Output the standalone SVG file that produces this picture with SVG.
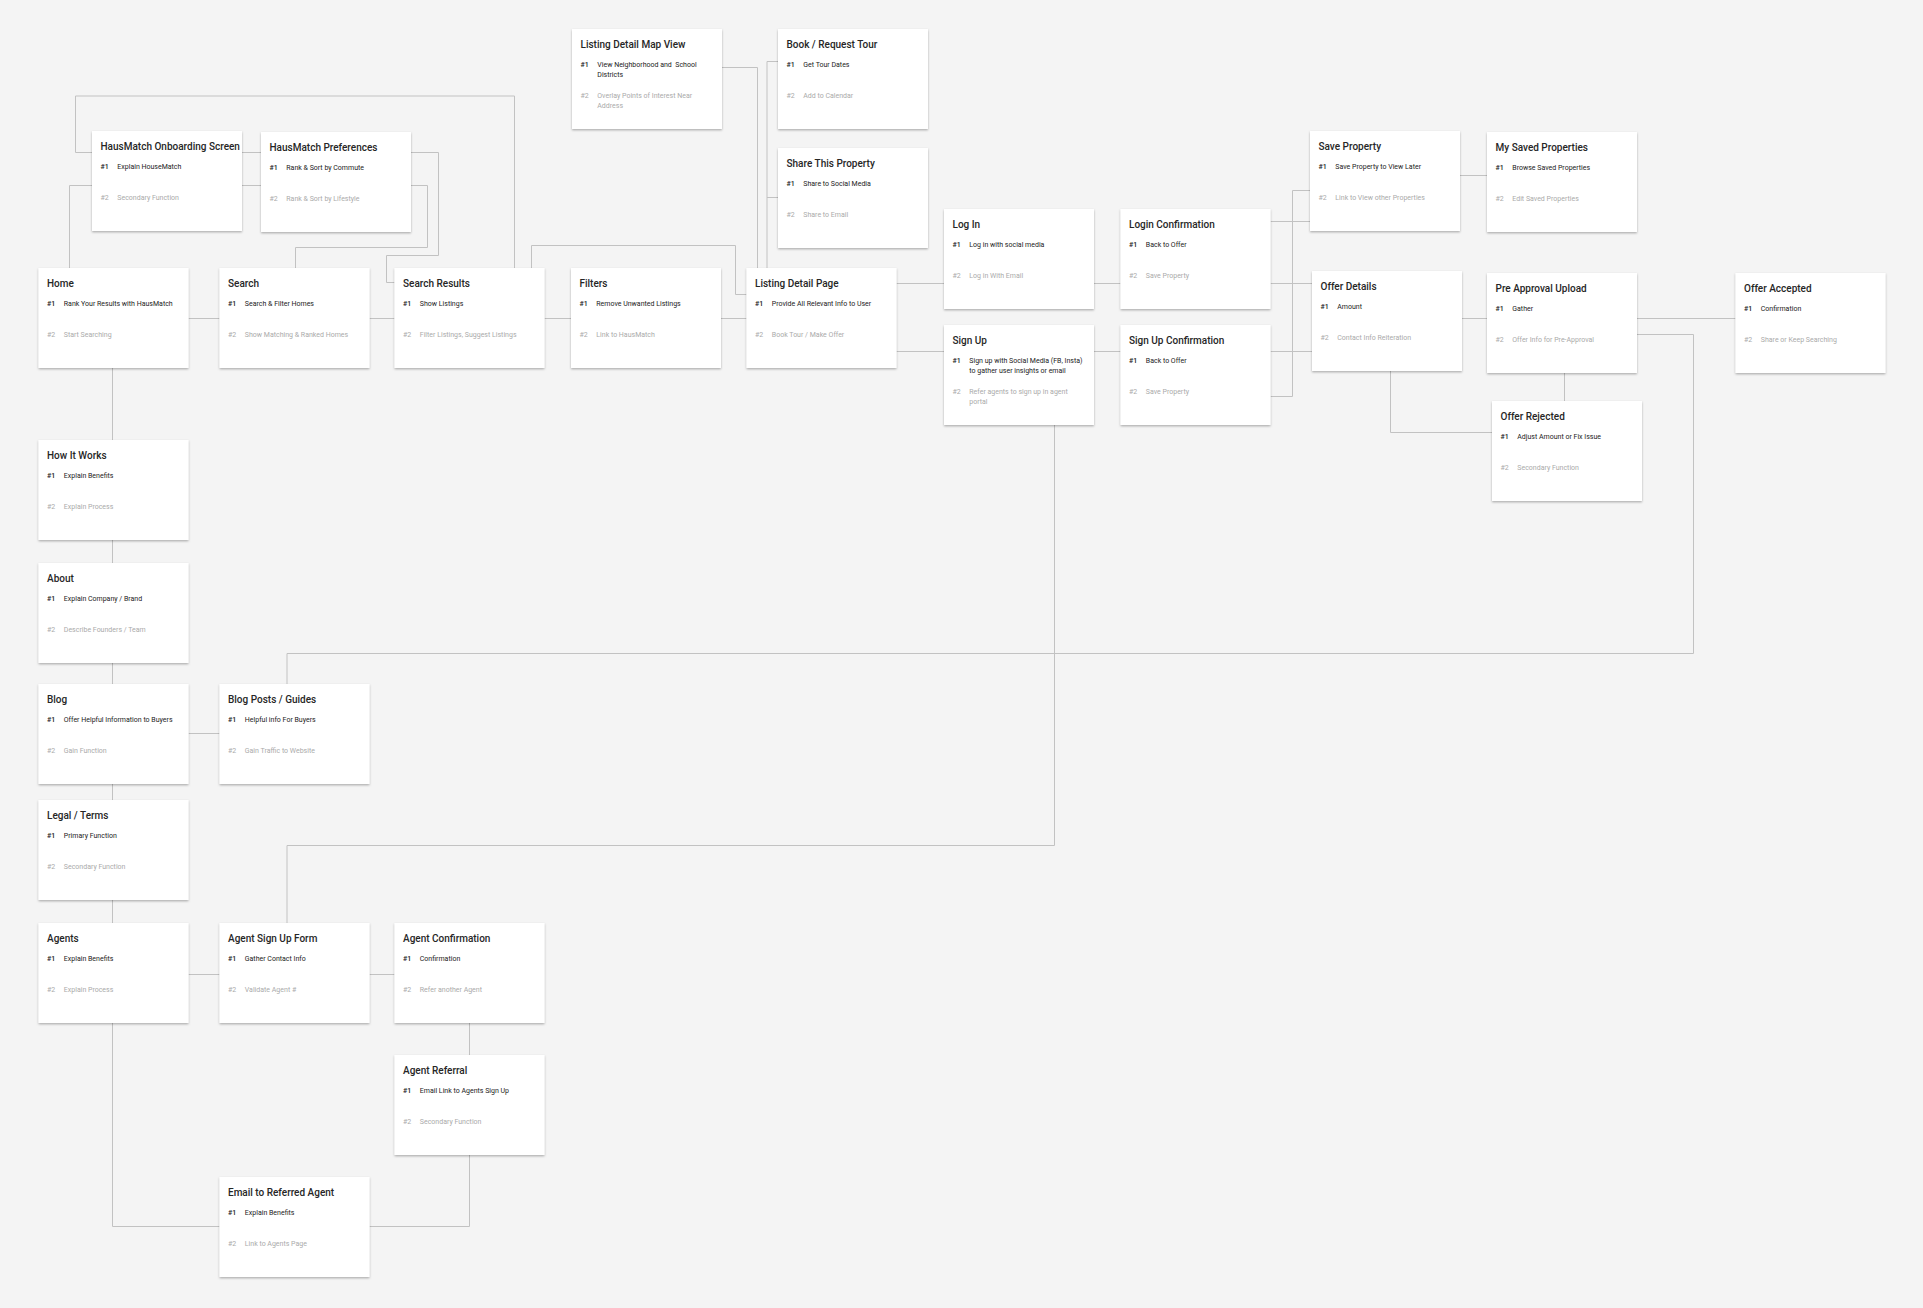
<svg xmlns="http://www.w3.org/2000/svg" width="1923" height="1308" viewBox="0 0 1923 1308">
  <defs>
    <filter id="lift" x="-5%" y="-5%" width="110%" height="115%">
      <feDropShadow dx="0" dy="1.2" stdDeviation="0.9" flood-color="#000" flood-opacity="0.3"/>
    </filter>
    <style>
      .bg { fill: #f4f4f4; }
      .card { fill: #ffffff; filter: url(#lift); }
      .t { font-family: Roboto, "Liberation Sans", sans-serif; font-size: 10px; font-weight: 500; fill: #262626; }
      .n1, .i1 { font-family: Roboto, "Liberation Sans", sans-serif; font-size: 7px; fill: #222222; }
      .n1 { font-weight: 500; }
      .n2, .i2 { font-family: Roboto, "Liberation Sans", sans-serif; font-size: 7px; fill: #aaaaaa; }
      .links path { fill: none; stroke: #c2c2c2; stroke-width: 1; }
    </style>
  </defs>

  <rect class="bg" x="0" y="0" width="1923" height="1308"/>

  <!-- connectors (drawn under the cards) -->
  <g id="connectors" class="links">
    <path d="M69.5,268 V185.5 H92"/>
    <path d="M92,152.5 H75.5 V96 H514.5 V268"/>
    <path d="M242,152.5 H261"/>
    <path d="M242,185.5 H261"/>
    <path d="M411,152.5 H438.5 V255.5 H386.5 V282.5 H394.5"/>
    <path d="M411,185.5 H427.5 V247.5 H295.5 V268"/>
    <path d="M188.5,318.5 H219.5"/>
    <path d="M369.5,318.5 H394.5"/>
    <path d="M544.5,318.5 H571"/>
    <path d="M721,318.5 H746.5"/>
    <path d="M531.5,268 V245.5 H735.5 V294.5 H746.5"/>
    <path d="M722,67.5 H757.5 V268"/>
    <path d="M778,61.5 H767 V268"/>
    <path d="M778,197.5 H767"/>
    <path d="M896.5,283.5 H944"/>
    <path d="M896.5,351.5 H944"/>
    <path d="M1094,283.5 H1120.5"/>
    <path d="M1094,351.5 H1120.5"/>
    <path d="M1270.5,221.5 H1310"/>
    <path d="M1270.5,283.5 H1312"/>
    <path d="M1270.5,351.5 H1312"/>
    <path d="M1270.5,396.5 H1292.5 V190.5 H1310"/>
    <path d="M1460,175.5 H1487"/>
    <path d="M1462,318.5 H1487"/>
    <path d="M1637,318.5 H1735.5"/>
    <path d="M1564.5,373 V401"/>
    <path d="M1390.5,371 V432.5 H1492"/>
    <path d="M1637,334.5 H1693.5 V653.5 H287 V684"/>
    <path d="M1054.5,425 V845.5 H287 V923"/>
    <path d="M112.5,368 V440"/>
    <path d="M112.5,540 V563"/>
    <path d="M112.5,663 V684"/>
    <path d="M112.5,784 V800"/>
    <path d="M112.5,900 V923"/>
    <path d="M188.5,733.5 H219.5"/>
    <path d="M188.5,974.5 H219.5"/>
    <path d="M369.5,974.5 H394.5"/>
    <path d="M469.5,1023 V1055"/>
    <path d="M112.5,1023 V1226.5 H219.5"/>
    <path d="M469.5,1155 V1226.5 H369.5"/>
  </g>

  <!-- screen cards: title, primary (#1) and secondary (#2) function -->
  <g id="onboarding" transform="translate(92,131)">
    <rect class="card" width="150" height="100"/>
    <text class="t" x="8.5" y="18.7">HausMatch Onboarding Screen</text>
    <text class="n1" x="8.5" y="38.3">#1</text><text class="i1" x="25.3" y="38.3">Explain HouseMatch</text>
    <text class="n2" x="8.5" y="69.3">#2</text><text class="i2" x="25.3" y="69.3">Secondary Function</text>
  </g>

  <g id="preferences" transform="translate(261,132)">
    <rect class="card" width="150" height="100"/>
    <text class="t" x="8.5" y="18.7">HausMatch Preferences</text>
    <text class="n1" x="8.5" y="38.3">#1</text><text class="i1" x="25.3" y="38.3">Rank &amp; Sort by Commute</text>
    <text class="n2" x="8.5" y="69.3">#2</text><text class="i2" x="25.3" y="69.3">Rank &amp; Sort by Lifestyle</text>
  </g>

  <g id="map-view" transform="translate(572,29)">
    <rect class="card" width="150" height="100"/>
    <text class="t" x="8.5" y="18.7">Listing Detail Map View</text>
    <text class="n1" x="8.5" y="38.3">#1</text>
    <text class="i1" x="25.3" y="38.3">View Neighborhood and&#160; School</text>
    <text class="i1" x="25.3" y="48.3">Districts</text>
    <text class="n2" x="8.5" y="69.3">#2</text>
    <text class="i2" x="25.3" y="69.3">Overlay Points of Interest Near</text>
    <text class="i2" x="25.3" y="79.3">Address</text>
  </g>

  <g id="book-tour" transform="translate(778,29)">
    <rect class="card" width="150" height="100"/>
    <text class="t" x="8.5" y="18.7">Book / Request Tour</text>
    <text class="n1" x="8.5" y="38.3">#1</text><text class="i1" x="25.3" y="38.3">Get Tour Dates</text>
    <text class="n2" x="8.5" y="69.3">#2</text><text class="i2" x="25.3" y="69.3">Add to Calendar</text>
  </g>

  <g id="share-property" transform="translate(778,148)">
    <rect class="card" width="150" height="100"/>
    <text class="t" x="8.5" y="18.7">Share This Property</text>
    <text class="n1" x="8.5" y="38.3">#1</text><text class="i1" x="25.3" y="38.3">Share to Social Media</text>
    <text class="n2" x="8.5" y="69.3">#2</text><text class="i2" x="25.3" y="69.3">Share to Email</text>
  </g>

  <g id="save-property" transform="translate(1310,131)">
    <rect class="card" width="150" height="100"/>
    <text class="t" x="8.5" y="18.7">Save Property</text>
    <text class="n1" x="8.5" y="38.3">#1</text><text class="i1" x="25.3" y="38.3">Save Property to View Later</text>
    <text class="n2" x="8.5" y="69.3">#2</text><text class="i2" x="25.3" y="69.3">Link to View other Properties</text>
  </g>

  <g id="saved-properties" transform="translate(1487,132)">
    <rect class="card" width="150" height="100"/>
    <text class="t" x="8.5" y="18.7">My Saved Properties</text>
    <text class="n1" x="8.5" y="38.3">#1</text><text class="i1" x="25.3" y="38.3">Browse Saved Properties</text>
    <text class="n2" x="8.5" y="69.3">#2</text><text class="i2" x="25.3" y="69.3">Edit Saved Properties</text>
  </g>

  <g id="log-in" transform="translate(944,209)">
    <rect class="card" width="150" height="100"/>
    <text class="t" x="8.5" y="18.7">Log In</text>
    <text class="n1" x="8.5" y="38.3">#1</text><text class="i1" x="25.3" y="38.3">Log in with social media</text>
    <text class="n2" x="8.5" y="69.3">#2</text><text class="i2" x="25.3" y="69.3">Log in With Email</text>
  </g>

  <g id="login-confirmation" transform="translate(1120.5,209)">
    <rect class="card" width="150" height="100"/>
    <text class="t" x="8.5" y="18.7">Login Confirmation</text>
    <text class="n1" x="8.5" y="38.3">#1</text><text class="i1" x="25.3" y="38.3">Back to Offer</text>
    <text class="n2" x="8.5" y="69.3">#2</text><text class="i2" x="25.3" y="69.3">Save Property</text>
  </g>

  <g id="home" transform="translate(38.5,268)">
    <rect class="card" width="150" height="100"/>
    <text class="t" x="8.5" y="18.7">Home</text>
    <text class="n1" x="8.5" y="38.3">#1</text><text class="i1" x="25.3" y="38.3">Rank Your Results with HausMatch</text>
    <text class="n2" x="8.5" y="69.3">#2</text><text class="i2" x="25.3" y="69.3">Start Searching</text>
  </g>

  <g id="search" transform="translate(219.5,268)">
    <rect class="card" width="150" height="100"/>
    <text class="t" x="8.5" y="18.7">Search</text>
    <text class="n1" x="8.5" y="38.3">#1</text><text class="i1" x="25.3" y="38.3">Search &amp; Filter Homes</text>
    <text class="n2" x="8.5" y="69.3">#2</text><text class="i2" x="25.3" y="69.3">Show Matching &amp; Ranked Homes</text>
  </g>

  <g id="search-results" transform="translate(394.5,268)">
    <rect class="card" width="150" height="100"/>
    <text class="t" x="8.5" y="18.7">Search Results</text>
    <text class="n1" x="8.5" y="38.3">#1</text><text class="i1" x="25.3" y="38.3">Show Listings</text>
    <text class="n2" x="8.5" y="69.3">#2</text><text class="i2" x="25.3" y="69.3">Filter Listings, Suggest Listings</text>
  </g>

  <g id="filters" transform="translate(571,268)">
    <rect class="card" width="150" height="100"/>
    <text class="t" x="8.5" y="18.7">Filters</text>
    <text class="n1" x="8.5" y="38.3">#1</text><text class="i1" x="25.3" y="38.3">Remove Unwanted Listings</text>
    <text class="n2" x="8.5" y="69.3">#2</text><text class="i2" x="25.3" y="69.3">Link to HausMatch</text>
  </g>

  <g id="listing-detail" transform="translate(746.5,268)">
    <rect class="card" width="150" height="100"/>
    <text class="t" x="8.5" y="18.7">Listing Detail Page</text>
    <text class="n1" x="8.5" y="38.3">#1</text><text class="i1" x="25.3" y="38.3">Provide All Relevant Info to User</text>
    <text class="n2" x="8.5" y="69.3">#2</text><text class="i2" x="25.3" y="69.3">Book Tour / Make Offer</text>
  </g>

  <g id="offer-details" transform="translate(1312,271)">
    <rect class="card" width="150" height="100"/>
    <text class="t" x="8.5" y="18.7">Offer Details</text>
    <text class="n1" x="8.5" y="38.3">#1</text><text class="i1" x="25.3" y="38.3">Amount</text>
    <text class="n2" x="8.5" y="69.3">#2</text><text class="i2" x="25.3" y="69.3">Contact Info Reiteration</text>
  </g>

  <g id="pre-approval" transform="translate(1487,273)">
    <rect class="card" width="150" height="100"/>
    <text class="t" x="8.5" y="18.7">Pre Approval Upload</text>
    <text class="n1" x="8.5" y="38.3">#1</text><text class="i1" x="25.3" y="38.3">Gather</text>
    <text class="n2" x="8.5" y="69.3">#2</text><text class="i2" x="25.3" y="69.3">Offer Info for Pre-Approval</text>
  </g>

  <g id="offer-accepted" transform="translate(1735.5,273)">
    <rect class="card" width="150" height="100"/>
    <text class="t" x="8.5" y="18.7">Offer Accepted</text>
    <text class="n1" x="8.5" y="38.3">#1</text><text class="i1" x="25.3" y="38.3">Confirmation</text>
    <text class="n2" x="8.5" y="69.3">#2</text><text class="i2" x="25.3" y="69.3">Share or Keep Searching</text>
  </g>

  <g id="sign-up" transform="translate(944,325)">
    <rect class="card" width="150" height="100"/>
    <text class="t" x="8.5" y="18.7">Sign Up</text>
    <text class="n1" x="8.5" y="38.3">#1</text>
    <text class="i1" x="25.3" y="38.3">Sign up with Social Media (FB, Insta)</text>
    <text class="i1" x="25.3" y="48.3">to gather user insights or email</text>
    <text class="n2" x="8.5" y="69.3">#2</text>
    <text class="i2" x="25.3" y="69.3">Refer agents to sign up in agent</text>
    <text class="i2" x="25.3" y="79.3">portal</text>
  </g>

  <g id="signup-confirmation" transform="translate(1120.5,325)">
    <rect class="card" width="150" height="100"/>
    <text class="t" x="8.5" y="18.7">Sign Up Confirmation</text>
    <text class="n1" x="8.5" y="38.3">#1</text><text class="i1" x="25.3" y="38.3">Back to Offer</text>
    <text class="n2" x="8.5" y="69.3">#2</text><text class="i2" x="25.3" y="69.3">Save Property</text>
  </g>

  <g id="offer-rejected" transform="translate(1492,401)">
    <rect class="card" width="150" height="100"/>
    <text class="t" x="8.5" y="18.7">Offer Rejected</text>
    <text class="n1" x="8.5" y="38.3">#1</text><text class="i1" x="25.3" y="38.3">Adjust Amount or Fix Issue</text>
    <text class="n2" x="8.5" y="69.3">#2</text><text class="i2" x="25.3" y="69.3">Secondary Function</text>
  </g>

  <g id="how-it-works" transform="translate(38.5,440)">
    <rect class="card" width="150" height="100"/>
    <text class="t" x="8.5" y="18.7">How It Works</text>
    <text class="n1" x="8.5" y="38.3">#1</text><text class="i1" x="25.3" y="38.3">Explain Benefits</text>
    <text class="n2" x="8.5" y="69.3">#2</text><text class="i2" x="25.3" y="69.3">Explain Process</text>
  </g>

  <g id="about" transform="translate(38.5,563)">
    <rect class="card" width="150" height="100"/>
    <text class="t" x="8.5" y="18.7">About</text>
    <text class="n1" x="8.5" y="38.3">#1</text><text class="i1" x="25.3" y="38.3">Explain Company / Brand</text>
    <text class="n2" x="8.5" y="69.3">#2</text><text class="i2" x="25.3" y="69.3">Describe Founders / Team</text>
  </g>

  <g id="blog" transform="translate(38.5,684)">
    <rect class="card" width="150" height="100"/>
    <text class="t" x="8.5" y="18.7">Blog</text>
    <text class="n1" x="8.5" y="38.3">#1</text><text class="i1" x="25.3" y="38.3">Offer Helpful Information to Buyers</text>
    <text class="n2" x="8.5" y="69.3">#2</text><text class="i2" x="25.3" y="69.3">Gain Function</text>
  </g>

  <g id="blog-posts" transform="translate(219.5,684)">
    <rect class="card" width="150" height="100"/>
    <text class="t" x="8.5" y="18.7">Blog Posts / Guides</text>
    <text class="n1" x="8.5" y="38.3">#1</text><text class="i1" x="25.3" y="38.3">Helpful info For Buyers</text>
    <text class="n2" x="8.5" y="69.3">#2</text><text class="i2" x="25.3" y="69.3">Gain Traffic to Website</text>
  </g>

  <g id="legal" transform="translate(38.5,800)">
    <rect class="card" width="150" height="100"/>
    <text class="t" x="8.5" y="18.7">Legal / Terms</text>
    <text class="n1" x="8.5" y="38.3">#1</text><text class="i1" x="25.3" y="38.3">Primary Function</text>
    <text class="n2" x="8.5" y="69.3">#2</text><text class="i2" x="25.3" y="69.3">Secondary Function</text>
  </g>

  <g id="agents" transform="translate(38.5,923)">
    <rect class="card" width="150" height="100"/>
    <text class="t" x="8.5" y="18.7">Agents</text>
    <text class="n1" x="8.5" y="38.3">#1</text><text class="i1" x="25.3" y="38.3">Explain Benefits</text>
    <text class="n2" x="8.5" y="69.3">#2</text><text class="i2" x="25.3" y="69.3">Explain Process</text>
  </g>

  <g id="agent-signup" transform="translate(219.5,923)">
    <rect class="card" width="150" height="100"/>
    <text class="t" x="8.5" y="18.7">Agent Sign Up Form</text>
    <text class="n1" x="8.5" y="38.3">#1</text><text class="i1" x="25.3" y="38.3">Gather Contact Info</text>
    <text class="n2" x="8.5" y="69.3">#2</text><text class="i2" x="25.3" y="69.3">Validate Agent #</text>
  </g>

  <g id="agent-confirmation" transform="translate(394.5,923)">
    <rect class="card" width="150" height="100"/>
    <text class="t" x="8.5" y="18.7">Agent Confirmation</text>
    <text class="n1" x="8.5" y="38.3">#1</text><text class="i1" x="25.3" y="38.3">Confirmation</text>
    <text class="n2" x="8.5" y="69.3">#2</text><text class="i2" x="25.3" y="69.3">Refer another Agent</text>
  </g>

  <g id="agent-referral" transform="translate(394.5,1055)">
    <rect class="card" width="150" height="100"/>
    <text class="t" x="8.5" y="18.7">Agent Referral</text>
    <text class="n1" x="8.5" y="38.3">#1</text><text class="i1" x="25.3" y="38.3">Email Link to Agents Sign Up</text>
    <text class="n2" x="8.5" y="69.3">#2</text><text class="i2" x="25.3" y="69.3">Secondary Function</text>
  </g>

  <g id="email-agent" transform="translate(219.5,1177)">
    <rect class="card" width="150" height="100"/>
    <text class="t" x="8.5" y="18.7">Email to Referred Agent</text>
    <text class="n1" x="8.5" y="38.3">#1</text><text class="i1" x="25.3" y="38.3">Explain Benefits</text>
    <text class="n2" x="8.5" y="69.3">#2</text><text class="i2" x="25.3" y="69.3">Link to Agents Page</text>
  </g>
</svg>
